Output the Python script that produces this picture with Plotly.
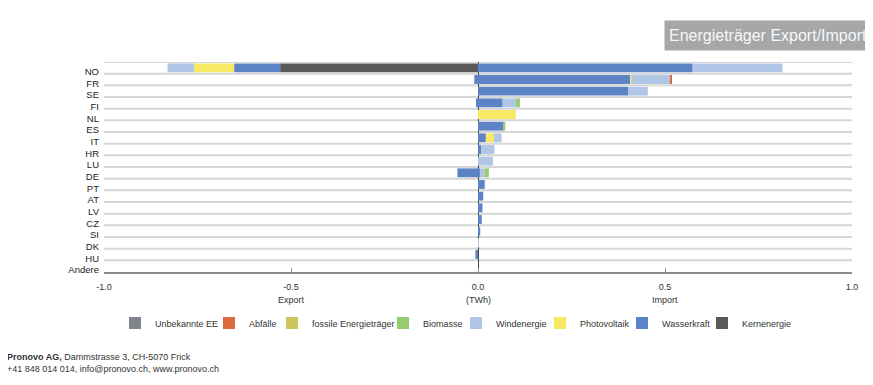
import plotly.graph_objects as go

categories = ["NO", "FR", "SE", "FI", "NL", "ES", "IT", "HR", "LU", "DE",
              "PT", "AT", "LV", "CZ", "SI", "DK", "HU", "Andere"]

# series order = stacking order
series = ["Kernenergie", "Wasserkraft", "Photovoltaik", "Windenergie",
          "Biomasse", "fossile Energieträger", "Abfälle", "Unbekannte EE"]
colors = ["#595959", "#5b83c5", "#f7e964", "#afc6e7",
          "#95cd6c", "#cbc65c", "#dc6a3d", "#7e858c"]

# Import (positive, TWh)
imp_kern = [0]*18
imp_wasser = [0.574, 0.407, 0.401, 0.066, 0, 0.069, 0.021, 0.009, 0, 0.005,
              0.018, 0.014, 0.012, 0.010, 0.006, 0, 0, 0]
imp_pv = [0, 0.003, 0, 0, 0.101, 0, 0.022, 0, 0, 0, 0, 0, 0, 0, 0, 0, 0, 0]
imp_wind = [0.240, 0.104, 0.053, 0.035, 0, 0, 0.020, 0.035, 0.040, 0.012,
            0, 0, 0, 0, 0, 0.002, 0, 0]
imp_bio = [0, 0, 0, 0.011, 0, 0.004, 0, 0, 0, 0.012, 0, 0, 0, 0, 0, 0, 0, 0]
imp_fossil = [0]*18
imp_abf = [0, 0.004, 0, 0, 0, 0, 0, 0, 0, 0, 0, 0, 0, 0, 0, 0, 0, 0]
imp_unb = [0]*18

# Export (negative, TWh)
exp_kern = [-0.529, 0, 0, 0, 0, 0, 0, 0, 0, 0, 0, 0, 0, 0, 0, 0, 0, 0]
exp_wasser = [-0.123, -0.010, 0, -0.004, 0, 0, 0, 0, 0, -0.055,
              0, 0, 0, 0, 0, 0, -0.007, 0]
exp_pv = [-0.107, 0, 0, 0, 0, 0, 0, 0, 0, 0, 0, 0, 0, 0, 0, 0, 0, 0]
exp_wind = [-0.071, 0, 0, 0, 0, 0, 0, 0, 0, 0, 0, 0, 0, 0, 0, 0, 0, 0]
exp_bio = [0]*18
exp_fossil = [0]*18
exp_abf = [0]*18
exp_unb = [0]*18

imports = [imp_kern, imp_wasser, imp_pv, imp_wind, imp_bio, imp_fossil, imp_abf, imp_unb]
exports = [exp_kern, exp_wasser, exp_pv, exp_wind, exp_bio, exp_fossil, exp_abf, exp_unb]

xticks = [-1.0, -0.5, 0.0, 0.5, 1.0]
xticktext = ["-1.0", "-0.5", "0.0", "0.5", "1.0"]
axis_words = ["Export", "(TWh)", "Import"]
axis_word_pos = [-0.5, 0.0, 0.5]

# legend layout (window px where each legend entry's text starts), legend order
legend_order = ["Unbekannte EE", "Abfälle", "fossile Energieträger", "Biomasse",
                "Windenergie", "Photovoltaik", "Wasserkraft", "Kernenergie"]
legend_text_x = [155, 249, 312, 423, 496, 580, 662, 742]

# ---- geometry (page has 8px body margin) ----
OFF = 8
W, H = 865, 377
L, R, T, B = 96, 21, 54, 113
pw = W - L - R
ph = H - T - B


def px_x(wx):
    return (wx - OFF - L) / pw


def px_y(wy):
    return (H - B - (wy - OFF)) / ph


narrow = "Liberation Sans Narrow, Arial Narrow, Liberation Sans, Arial, sans-serif"
regular = "Liberation Sans, Arial, sans-serif"

ypos = list(range(len(categories)))

fig = go.Figure()
legend_ids = {}
for k, name in enumerate(legend_order):
    legend_ids[name] = "legend" if k == 0 else "legend%d" % (k + 1)

for name, col, iv, ev in zip(series, colors, imports, exports):
    lid = legend_ids[name]
    fig.add_trace(go.Bar(y=ypos, x=iv, orientation="h", name=name,
                         marker=dict(color=col, line=dict(width=0)),
                         legendgroup=name, showlegend=True, legend=lid))
    fig.add_trace(go.Bar(y=ypos, x=ev, orientation="h", name=name,
                         marker=dict(color=col, line=dict(width=0)),
                         legendgroup=name, showlegend=False, legend=lid))

# category boundary gridlines
shapes = []
for i in range(len(categories)):
    shapes.append(dict(type="line", xref="paper", yref="y", x0=0, x1=1,
                       y0=i - 0.5, y1=i - 0.5,
                       line=dict(color="#d6d6d6", width=2), layer="below"))

annotations = []
for w, p in zip(axis_words, axis_word_pos):
    annotations.append(dict(x=p, xref="x", y=px_y(300), yref="paper", text=w,
                            showarrow=False, font=dict(family=narrow, size=9, color="#333"),
                            xanchor="center", yanchor="middle"))

annotations.append(dict(x=px_x(5), xref="paper", y=px_y(356.5), yref="paper",
                        text="<b>Pronovo AG,</b> Dammstrasse 3, CH-5070 Frick",
                        showarrow=False, xanchor="left", yanchor="middle",
                        font=dict(family=narrow, size=9, color="#333")))
annotations.append(dict(x=px_x(5), xref="paper", y=px_y(368.5), yref="paper",
                        text="+41 848 014 014, info@pronovo.ch, www.pronovo.ch",
                        showarrow=False, xanchor="left", yanchor="middle",
                        font=dict(family=narrow, size=9, color="#333")))
annotations.append(dict(x=px_x(664), xref="paper", y=px_y(35.5), yref="paper",
                        text="Energieträger Export/Import", showarrow=False,
                        xanchor="left", yanchor="middle", align="left",
                        bgcolor="#a6a7a9", borderpad=4, width=205, height=21,
                        font=dict(family=regular, size=16, color="#f7f7f7")))

layout_legends = {}
for k, name in enumerate(legend_order):
    lid = legend_ids[name]
    layout_legends[lid] = dict(
        orientation="h", x=px_x(legend_text_x[k] - 40), xanchor="left",
        y=px_y(323), yanchor="middle", bgcolor="rgba(0,0,0,0)",
        font=dict(family=narrow, size=9, color="#333"))

fig.update_layout(
    width=W, height=H,
    margin=dict(l=L, r=R, t=T, b=B, autoexpand=False),
    barmode="relative", bargap=0.24,
    plot_bgcolor="white", paper_bgcolor="white",
    shapes=shapes, annotations=annotations,
    xaxis=dict(range=[-1, 1], tickvals=xticks, ticktext=xticktext,
               showgrid=False, zeroline=True, zerolinecolor="#444",
               zerolinewidth=1, showline=True, linecolor="#8c8c8c",
               linewidth=2, ticks="inside", ticklen=4, tickcolor="#8c8c8c",
               tickfont=dict(family=narrow, size=9, color="#333"),
               ticklabelstandoff=5),
    yaxis=dict(range=[len(categories) - 0.5, -0.5], tickvals=[p + 0.32 for p in ypos],
               ticktext=categories, showgrid=False, zeroline=False,
               showline=False, ticks="", ticklabelstandoff=4,
               tickfont=dict(family=regular, size=9.5, color="#222")),
    **layout_legends,
)

fig.write_html("out.html")
